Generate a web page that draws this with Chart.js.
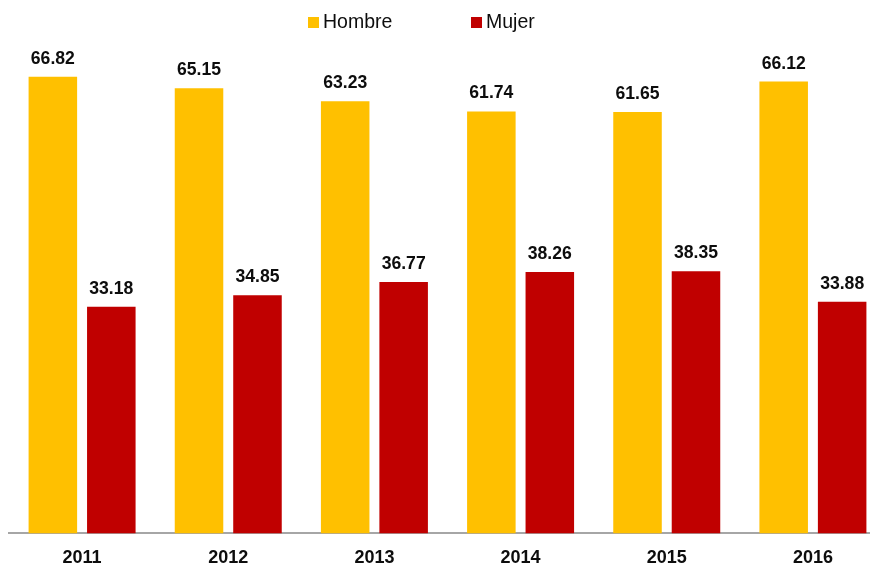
<!DOCTYPE html>
<html>
<head>
<meta charset="utf-8">
<script src="https://cdn.jsdelivr.net/npm/chart.js@4.4.1/dist/chart.umd.min.js"></script>
<style>
    html, body { margin: 0; padding: 0; background: #fff; overflow: hidden; }
    #wrap { width: 870px; height: 564px; overflow: hidden; }
</style>
</head>
<body>
<div id="wrap"><canvas id="chart" width="886" height="564"></canvas></div>
<script>
// Data
const years = ['2011', '2012', '2013', '2014', '2015', '2016'];
const hombre = [66.82, 65.15, 63.23, 61.74, 61.65, 66.12];
const mujer = [33.18, 34.85, 36.77, 38.26, 38.35, 33.88];

const FONT = '"Liberation Sans", Arial, sans-serif';

// Value labels above each bar
const valueLabels = {
    id: 'valueLabels',
    afterDatasetsDraw(chart) {
        const ctx = chart.ctx;
        ctx.save();
        ctx.font = 'bold 17.6px ' + FONT;
        ctx.fillStyle = '#0d0d0d';
        ctx.textAlign = 'center';
        ctx.textBaseline = 'alphabetic';
        chart.data.datasets.forEach((ds, i) => {
            chart.getDatasetMeta(i).data.forEach((bar, j) => {
                ctx.fillText(ds.data[j].toFixed(2), bar.x, bar.y - 13);
            });
        });
        ctx.restore();
    }
};

// Legend drawn by hand so it sits where the original one does
const topLegend = {
    id: 'topLegend',
    afterDraw(chart) {
        const ctx = chart.ctx;
        const spots = [308, 471];
        ctx.save();
        ctx.font = '19.5px ' + FONT;
        ctx.textBaseline = 'middle';
        ctx.textAlign = 'left';
        chart.data.datasets.forEach((ds, i) => {
            const x = spots[i];
            ctx.fillStyle = ds.backgroundColor;
            ctx.fillRect(x, 17, 11, 11);
            ctx.fillStyle = '#0d0d0d';
            ctx.fillText(ds.label, x + 15, 23);
        });
        ctx.restore();
    }
};

new Chart(document.getElementById('chart'), {
    type: 'bar',
    data: {
        labels: years,
        datasets: [
            {
                label: 'Hombre',
                data: hombre,
                backgroundColor: '#FFC000',
                categoryPercentage: 0.8,
                barPercentage: 0.83
            },
            {
                label: 'Mujer',
                data: mujer,
                backgroundColor: '#C00000',
                categoryPercentage: 0.8,
                barPercentage: 0.83
            }
        ]
    },
    options: {
        responsive: false,
        animation: false,
        devicePixelRatio: 1,
        layout: {
            padding: { top: 55, left: 9, right: 0, bottom: -19 }
        },
        plugins: {
            legend: { display: false },
            tooltip: { enabled: false }
        },
        scales: {
            x: {
                grid: { display: false, drawTicks: false },
                border: { display: true, color: '#a6a6a6', width: 2 },
                ticks: {
                    color: '#0d0d0d',
                    padding: 14,
                    font: { family: FONT, size: 18, weight: 'bold' }
                }
            },
            y: {
                display: false,
                min: 0,
                max: 70
            }
        }
    },
    plugins: [valueLabels, topLegend]
});
</script>
</body>
</html>
